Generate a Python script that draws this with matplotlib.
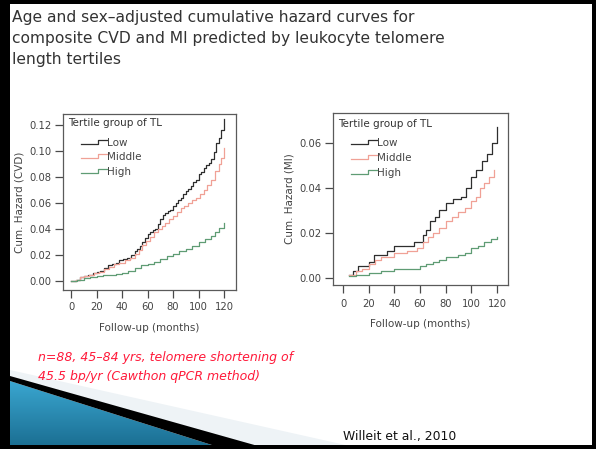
import numpy as np
import matplotlib
matplotlib.use("Agg")
import matplotlib.pyplot as plt
from matplotlib.lines import Line2D
from matplotlib.legend_handler import HandlerBase
from matplotlib.patches import Polygon, Rectangle

# ---------------- data ----------------
months_ticks = [0, 20, 40, 60, 80, 100, 120]
cvd_yticks = [0.00, 0.02, 0.04, 0.06, 0.08, 0.10, 0.12]
mi_yticks = [0.00, 0.02, 0.04, 0.06]
groups = ["Low", "Middle", "High"]
legend_title = "Tertile group of TL"

cvd_low_t = [0, 4, 7, 10, 13, 17, 20, 23, 26, 29, 32, 35, 38, 41, 44, 47, 50, 52, 54, 56,
             58, 60, 62, 64, 66, 68, 70, 72, 74, 76, 78, 80, 82, 84, 86, 88, 90, 92, 94,
             96, 98, 100, 102, 104, 106, 108, 110, 112, 114, 116, 118, 120]
cvd_low_v = [0.000, 0.001, 0.003, 0.004, 0.005, 0.006, 0.007, 0.008, 0.010, 0.012, 0.013,
             0.014, 0.016, 0.017, 0.018, 0.020, 0.023, 0.025, 0.027, 0.030, 0.033, 0.036,
             0.038, 0.039, 0.040, 0.044, 0.048, 0.051, 0.052, 0.054, 0.055, 0.058, 0.060,
             0.062, 0.064, 0.067, 0.069, 0.071, 0.073, 0.076, 0.078, 0.082, 0.084, 0.087,
             0.089, 0.091, 0.094, 0.099, 0.106, 0.110, 0.116, 0.125]

cvd_mid_t = [0, 4, 7, 10, 14, 18, 22, 26, 30, 34, 38, 42, 46, 50, 53, 56, 59, 62, 65, 68,
             71, 74, 77, 80, 83, 86, 89, 92, 95, 98, 101, 104, 107, 110, 113, 116, 118, 120]
cvd_mid_v = [0.000, 0.001, 0.003, 0.004, 0.005, 0.006, 0.007, 0.009, 0.011, 0.013, 0.014,
             0.016, 0.018, 0.021, 0.024, 0.028, 0.031, 0.034, 0.038, 0.040, 0.042, 0.045,
             0.048, 0.050, 0.053, 0.056, 0.058, 0.060, 0.062, 0.064, 0.067, 0.070, 0.074,
             0.078, 0.085, 0.090, 0.095, 0.102]

cvd_high_t = [0, 5, 10, 15, 20, 25, 30, 35, 40, 45, 50, 55, 60, 65, 70, 75, 80, 85, 90, 95,
              100, 105, 110, 113, 116, 120]
cvd_high_v = [0.000, 0.001, 0.002, 0.003, 0.004, 0.0045, 0.005, 0.0055, 0.006, 0.008,
              0.010, 0.012, 0.013, 0.015, 0.017, 0.019, 0.021, 0.023, 0.025, 0.027, 0.030,
              0.032, 0.035, 0.038, 0.041, 0.045]

mi_low_t = [5, 8, 12, 17, 20, 24, 30, 34, 40, 52, 55, 60, 62, 65, 68, 72, 75, 80, 86, 92,
            96, 100, 104, 108, 112, 116, 120]
mi_low_v = [0.001, 0.003, 0.005, 0.005, 0.007, 0.010, 0.010, 0.012, 0.014, 0.014, 0.016,
            0.016, 0.019, 0.021, 0.025, 0.027, 0.030, 0.033, 0.035, 0.036, 0.040, 0.045,
            0.048, 0.052, 0.055, 0.060, 0.067]

mi_mid_t = [5, 10, 15, 20, 25, 30, 40, 50, 58, 62, 66, 70, 75, 80, 85, 90, 95, 100, 104,
            107, 110, 114, 118]
mi_mid_v = [0.001, 0.003, 0.004, 0.006, 0.008, 0.009, 0.011, 0.012, 0.013, 0.016, 0.018,
            0.020, 0.022, 0.025, 0.027, 0.029, 0.031, 0.034, 0.036, 0.040, 0.042, 0.045,
            0.048]

mi_high_t = [5, 10, 20, 30, 40, 50, 60, 65, 70, 75, 80, 90, 95, 100, 105, 110, 115, 120]
mi_high_v = [0.0005, 0.001, 0.002, 0.003, 0.004, 0.004, 0.005, 0.006, 0.007, 0.008, 0.009,
             0.010, 0.011, 0.013, 0.014, 0.016, 0.017, 0.018]

colors = {"Low": "#2e2e2e", "Middle": "#f0a196", "High": "#5f9c74"}

W, H = 596, 449
fig = plt.figure(figsize=(W / 100, H / 100), dpi=100)
fig.patch.set_facecolor("white")

# ---------- slide decoration (pixel coordinates) ----------
bg = fig.add_axes([0, 0, 1, 1], zorder=-5)
bg.set_xlim(0, W)
bg.set_ylim(H, 0)
bg.axis("off")

bg.add_patch(Polygon([(10, 370), (10, 377), (255, 446), (350, 446)], closed=True,
                     facecolor="#eef3f6", edgecolor="none"))
tri = Polygon([(10, 381), (10, 446), (215, 446)], closed=True, facecolor="none",
              edgecolor="none")
bg.add_patch(tri)
grad = np.linspace(0, 1, 64).reshape(-1, 1)
cm = matplotlib.colors.LinearSegmentedColormap.from_list("b", ["#3aa6d0", "#1b6f93"])
im = bg.imshow(grad, extent=(10, 215, 446, 381), cmap=cm, aspect="auto", zorder=1)
im.set_clip_path(tri)
bg.add_patch(Polygon([(10, 376), (10, 381), (215, 446), (258, 446)], closed=True,
                     facecolor="black", edgecolor="none", zorder=2))
for (x, y, w, h) in [(0, 0, 10, H), (0, 0, W, 4), (W - 4, 0, 4, H), (0, H - 4, W, 4)]:
    bg.add_patch(Rectangle((x, y), w, h, facecolor="black", edgecolor="none", zorder=3))


# ---------- legend handler drawing a small step ----------
class StepHandler(HandlerBase):
    def create_artists(self, legend, orig_handle, xdescent, ydescent, width, height,
                       fontsize, trans):
        x0 = -xdescent + 0.38 * width
        xm = -xdescent + 0.80 * width
        x1 = -xdescent + width
        ylo = -ydescent + 0.25 * height
        yhi = -ydescent + 0.80 * height
        ln = Line2D([x0, xm, xm, x1], [ylo, ylo, yhi, yhi],
                    color=orig_handle.get_color(), lw=0.9)
        ln.set_transform(trans)
        return [ln]


def style_axes(ax, yticks, ylabel, xlim, ylim, label_x_pad):
    ax.set_xlim(*xlim)
    ax.set_ylim(*ylim)
    ax.set_xticks(months_ticks)
    ax.set_xticklabels([str(m) for m in months_ticks])
    ax.set_yticks(yticks)
    ax.set_yticklabels(["%.2f" % v for v in yticks])
    for s in ax.spines.values():
        s.set_color("#5a5a5a")
        s.set_linewidth(0.9)
    ax.tick_params(direction="out", length=6, width=0.9, color="#4a4a4a",
                   labelsize=7.2, labelcolor="#444444", pad=2.5)
    ax.set_xlabel("Follow-up (months)", fontsize=7.5, color="#444444", labelpad=label_x_pad)
    ax.set_ylabel(ylabel, fontsize=7.5, color="#444444", labelpad=3)


def add_legend(ax, title_y, anchor_y):
    ax.text(0.03, title_y, legend_title, transform=ax.transAxes, ha="left", va="top",
            fontsize=7.5, color="#333333")
    handles = [Line2D([], [], color=colors[g]) for g in groups]
    leg = ax.legend(handles, groups, loc="upper left", bbox_to_anchor=(0.0, anchor_y),
                    frameon=False, fontsize=7.5,
                    handler_map={Line2D: StepHandler()}, handlelength=4.0,
                    handletextpad=0.05, labelspacing=0.45, borderaxespad=0.0,
                    borderpad=0.2)
    for t in leg.get_texts():
        t.set_color("#444444")


# ---------- left: CVD ----------
ax1 = fig.add_axes([63 / W, 1 - 290 / H, 173 / W, 176 / H])
ax1.plot(cvd_low_t, cvd_low_v, drawstyle="steps-post", color=colors["Low"], lw=0.9)
ax1.plot(cvd_mid_t, cvd_mid_v, drawstyle="steps-post", color=colors["Middle"], lw=0.9)
ax1.plot(cvd_high_t, cvd_high_v, drawstyle="steps-post", color=colors["High"], lw=0.9)
style_axes(ax1, cvd_yticks, "Cum. Hazard (CVD)", (-6.3, 129.4), (-0.0069, 0.1285), 8)
add_legend(ax1, 0.98, 0.878)

# ---------- right: MI ----------
ax2 = fig.add_axes([333 / W, 1 - 285 / H, 175 / W, 172 / H])
ax2.plot(mi_low_t, mi_low_v, drawstyle="steps-post", color=colors["Low"], lw=0.9)
ax2.plot(mi_mid_t, mi_mid_v, drawstyle="steps-post", color=colors["Middle"], lw=0.9)
ax2.plot(mi_high_t, mi_high_v, drawstyle="steps-post", color=colors["High"], lw=0.9)
style_axes(ax2, mi_yticks, "Cum. Hazard (MI)", (-7.8, 128.6), (-0.0033, 0.0733), 7)
ax2.tick_params(axis="x", pad=4)
add_legend(ax2, 0.965, 0.865)

# ---------- slide texts ----------
fig.text(12 / W, 1 - 10 / H,
         "Age and sex\u2013adjusted cumulative hazard curves for\n"
         "composite CVD and MI predicted by leukocyte telomere\n"
         "length tertiles",
         ha="left", va="top", fontsize=11.2, color="#333333", linespacing=1.5,
         family="DejaVu Sans")
fig.text(38 / W, 1 - 367 / H,
         "n=88, 45\u201384 yrs, telomere shortening of\n45.5 bp/yr (Cawthon qPCR method)",
         ha="left", va="center", fontsize=9, color="#ff1a3a", style="italic",
         linespacing=1.6, family="DejaVu Sans")
fig.text(343 / W, 1 - 440 / H, "Willeit et al., 2010", ha="left", va="baseline",
         fontsize=8.9, color="#111111", family="DejaVu Sans")

fig.savefig("out.png", dpi=100, facecolor="white")
